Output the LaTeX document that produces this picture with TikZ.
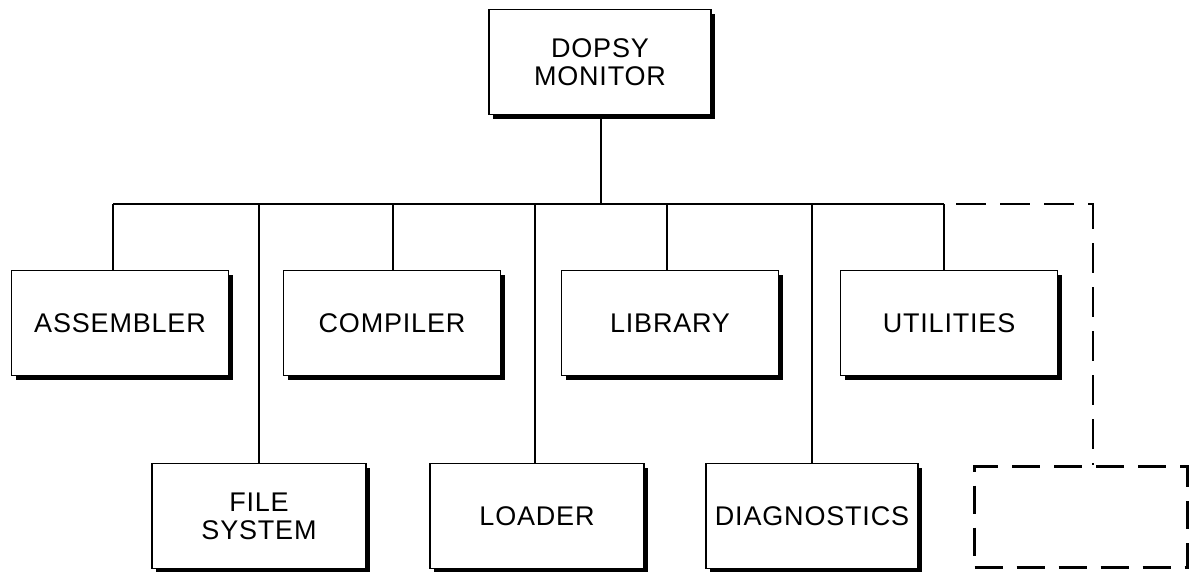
\documentclass[tikz,border=0pt]{standalone}
\usepackage{fontspec}
\setmainfont{Liberation Sans}[LetterSpace=3]
\usetikzlibrary{shadows}

\tikzset{
  unitbox/.style={draw=black, line width=1.9pt, fill=white, align=center,
    font=\fontsize{27}{28}\selectfont,
    drop shadow={shadow xshift=4.2pt, shadow yshift=-4.2pt, fill=black, opacity=1}},
  rowbox/.style={unitbox, minimum width=217pt, minimum height=105pt},
  openbox/.style={draw=black, line width=2.6pt, dash pattern=on 28pt off 14pt,
    minimum width=213pt, minimum height=101pt},
  link/.style={line width=2.2pt},
  openlink/.style={line width=2.6pt, dash pattern=on 30pt off 14pt, dash phase=-12pt}
}

\begin{document}
\begin{tikzpicture}[x=1pt, y=-1pt]
  \useasboundingbox (0,0) rectangle (1191,572);

  % monitor at the top
  \node[unitbox, minimum width=222pt, minimum height=105pt] (mon) at (600,62) {DOPSY\\MONITOR};

  % first row of components
  \node[rowbox] (asm)  at (120,323) {ASSEMBLER};
  \node[rowbox] (comp) at (392,323) {COMPILER};
  \node[rowbox] (lib)  at (670,323) {LIBRARY};
  \node[rowbox] (util) at (949,323) {UTILITIES};

  % second row of components
  \node[rowbox, minimum width=214pt] (fs)   at (259,516) {FILE\\SYSTEM};
  \node[rowbox, minimum width=214pt] (ld)   at (537,516) {LOADER};
  \node[rowbox, minimum width=212pt] (diag) at (812,516) {DIAGNOSTICS};
  \node[openbox] (spare) at (1081,517) {};

  % bus points where the branches leave the main line
  \coordinate (bus)   at (601,204);
  \coordinate (bAsm)  at (113,204);
  \coordinate (bFs)   at (259,204);
  \coordinate (bComp) at (393,204);
  \coordinate (bLd)   at (535,204);
  \coordinate (bLib)  at (667,204);
  \coordinate (bDiag) at (812,204);
  \coordinate (bUtil) at (944,204);
  \coordinate (bEnd)  at (1093,204);
  \coordinate (bDrop) at (1093,466);

  % trunk and bus line
  \draw[link] (mon.south -| bus) -- (bus);
  \draw[link] (bAsm) -- (bUtil);

  % branches to each component
  \draw[link] (bAsm)  -- (bAsm  |- asm.north);
  \draw[link] (bFs)   -- (bFs   |- fs.north);
  \draw[link] (bComp) -- (bComp |- comp.north);
  \draw[link] (bLd)   -- (bLd   |- ld.north);
  \draw[link] (bLib)  -- (bLib  |- lib.north);
  \draw[link] (bDiag) -- (bDiag |- diag.north);
  \draw[link] (bUtil) -- (bUtil |- util.north);

  % open slot for further additions
  \draw[openlink] (bUtil) -- (bEnd) -- (bDrop |- spare.north);
\end{tikzpicture}
\end{document}
